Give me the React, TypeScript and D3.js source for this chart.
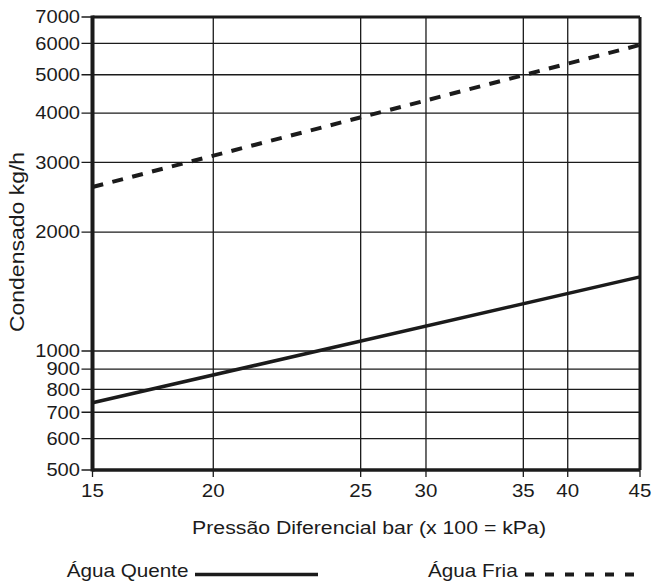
import React from "react";
import * as d3 from "d3";

// values (log-log style chart, hand-spaced x axis)
const pressure = [15, 45];
const aguaQuente = [740, 1540];
const aguaFria = [2600, 5950];

const xTicks = [15, 20, 25, 30, 35, 40, 45];
const yTicks = [500, 600, 700, 800, 900, 1000, 2000, 3000, 4000, 5000, 6000, 7000];

// relative position of each x tick along the axis (the original axis is not evenly spaced)
const xStops = [0, 0.2206, 0.4898, 0.6091, 0.7869, 0.868, 1];

const W = 653;
const H = 585;
const margin = { top: 17, right: 13, bottom: 115, left: 92.5 };
const INK = "#1b1b1b";
const FONT = "'Liberation Sans', Arial, Helvetica, sans-serif";
const STRETCH = 1.15; // the original lettering is a little wider than Arial

const Label: React.FC<{
    x: number;
    y: number;
    size: number;
    anchor?: "start" | "middle" | "end";
    rotate?: number;
    sx?: number;
    children: React.ReactNode;
}> = ({ x, y, size, anchor = "start", rotate = 0, sx = STRETCH, children }) => (
    <text
        transform={`translate(${x},${y}) rotate(${rotate}) scale(${sx},1)`}
        textAnchor={anchor}
        fontSize={size}
        fill={INK}
    >
        {children}
    </text>
);

const App: React.FC = () => {
    const x0 = margin.left;
    const x1 = W - margin.right;
    const y0 = H - margin.bottom;
    const y1 = margin.top;

    const xScale = d3
        .scaleLinear()
        .domain(xTicks)
        .range(xStops.map(f => x0 + f * (x1 - x0)));

    const yScale = d3.scaleLog().domain([500, 7000]).range([y0, y1]);

    const lineGen = d3
        .line<number>()
        .x((_, i) => xScale(pressure[i]))
        .y(d => yScale(d));

    return (
        <>
            <style>{`body{margin:0}`}</style>
            <svg width={W} height={H} style={{ display: "block", fontFamily: FONT }}>
                <rect width={W} height={H} fill="#fff" />

                {/* horizontal grid + left ticks */}
                {yTicks.map(t => (
                    <g key={"y" + t}>
                        <line
                            x1={x0 - 11}
                            x2={x1}
                            y1={yScale(t)}
                            y2={yScale(t)}
                            stroke={INK}
                            strokeWidth={1.3}
                        />
                        <Label x={x0 - 12.5} y={yScale(t) + 6.3} size={17.5} anchor="end">
                            {t}
                        </Label>
                    </g>
                ))}

                {/* vertical grid + bottom ticks */}
                {xTicks.map(t => (
                    <g key={"x" + t}>
                        <line
                            x1={xScale(t)}
                            x2={xScale(t)}
                            y1={y1}
                            y2={y0 + 7}
                            stroke={INK}
                            strokeWidth={1.3}
                        />
                        <Label x={xScale(t)} y={y0 + 27} size={19} anchor="middle" sx={1.08}>
                            {t}
                        </Label>
                    </g>
                ))}

                {/* frame */}
                <line x1={x0} x2={x1} y1={y1} y2={y1} stroke={INK} strokeWidth={3} />
                <line x1={x1} x2={x1} y1={y1} y2={y0} stroke={INK} strokeWidth={3} />
                <line x1={x0} x2={x1} y1={y0} y2={y0} stroke={INK} strokeWidth={3.5} />
                <line x1={x0} x2={x0} y1={y1 - 1.5} y2={y0 + 1.5} stroke={INK} strokeWidth={4} />

                {/* series */}
                <path
                    d={lineGen(aguaQuente) ?? ""}
                    fill="none"
                    stroke={INK}
                    strokeWidth={3.5}
                />
                <path
                    d={lineGen(aguaFria) ?? ""}
                    fill="none"
                    stroke={INK}
                    strokeWidth={4}
                    strokeDasharray="11,9.5"
                />

                {/* axis titles */}
                <Label x={369} y={534} size={18.5} anchor="middle">
                    Pressão Diferencial bar (x 100 = kPa)
                </Label>
                <Label x={24} y={242} size={19.5} anchor="middle" rotate={-90} sx={1.18}>
                    Condensado kg/h
                </Label>

                {/* legend */}
                <Label x={66.7} y={577} size={18}>
                    Água Quente
                </Label>
                <line x1={195} x2={318} y1={574.5} y2={574.5} stroke={INK} strokeWidth={3.5} />
                <Label x={428} y={577} size={18}>
                    Água Fria
                </Label>
                <line
                    x1={525}
                    x2={640}
                    y1={574.5}
                    y2={574.5}
                    stroke={INK}
                    strokeWidth={4}
                    strokeDasharray="9,11"
                />
            </svg>
        </>
    );
};

export default App;
